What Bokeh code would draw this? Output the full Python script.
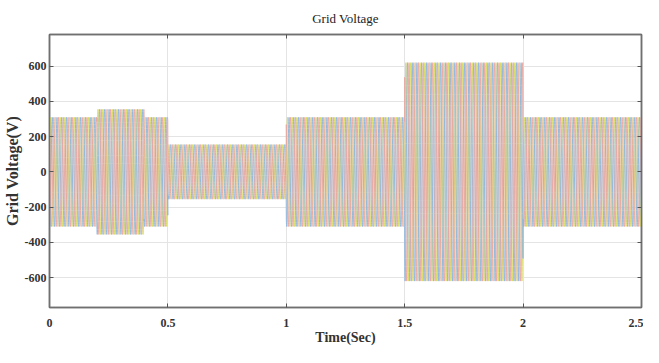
import numpy as np
from bokeh.plotting import figure
from bokeh.models import (LinearAxis, FixedTicker, Range1d,
                          CustomJSTickFormatter)
from bokeh.embed import file_html
from bokeh.resources import INLINE

# ---- data ----
seg_start = [0.0, 0.2, 0.4, 0.5, 1.0, 1.5, 2.0]      # s
seg_end = [0.2, 0.4, 0.5, 1.0, 1.5, 2.0, 2.5]        # s
seg_peak = [310, 355, 310, 155, 310, 620, 310]       # V, peak of each phase
freq_hz = 50
phase_deg = [0, -120, 120]
phase_colors = ["#d9db62", "#8fb6de", "#e8a9a2"]
x_ticks = [0, 0.5, 1, 1.5, 2, 2.5]
x_tick_labels = ["0", "0.5", "1", "1.5", "2", "2.5"]
y_ticks = [-600, -400, -200, 0, 200, 400, 600]
y_tick_labels = ["-600", "-400", "-200", "0", "200", "400", "600"]

t = np.linspace(seg_start[0], seg_end[-1], 125 * 48 + 1)
amp = np.zeros_like(t)
for s, e, a in zip(seg_start, seg_end, seg_peak):
    amp[(t >= s) & (t <= e)] = a

FONT = "Liberation Serif"

p = figure(width=643, height=347, output_backend="svg",
           toolbar_location=None,
           x_range=Range1d(0, 2.5), y_range=Range1d(-770, 780),
           min_border_left=30, min_border_right=2, min_border_bottom=40,
           min_border_top=25)

for ph, col in zip(phase_deg, phase_colors):
    v = amp * np.sin(2 * np.pi * freq_hz * t + np.deg2rad(ph))
    p.line(x=t, y=v, line_color=col, line_width=1, line_alpha=0.95)

p.title.text = "Grid Voltage"
p.title.align = "center"
p.title.text_font = FONT
p.title.text_font_style = "normal"
p.title.text_font_size = "13px"
p.title.text_color = "#222222"
p.title.standoff = 17

p.outline_line_color = "#707070"
p.outline_line_width = 1.5
p.background_fill_color = "white"
p.border_fill_color = "white"

for ax in p.xaxis:
    ax.ticker = FixedTicker(ticks=x_ticks)
    ax.major_label_overrides = {k: v for k, v in zip(x_ticks, x_tick_labels)}
    ax.axis_label = "Time(Sec)"
for ax in p.yaxis:
    ax.ticker = FixedTicker(ticks=y_ticks)
    ax.major_label_overrides = {k: v for k, v in zip(y_ticks, y_tick_labels)}
    ax.axis_label = "Grid Voltage(V)"

for ax in list(p.xaxis) + list(p.yaxis):
    ax.axis_line_color = "#707070"
    ax.axis_line_width = 1.5
    ax.major_tick_in = 4
    ax.major_tick_out = 0
    ax.major_tick_line_color = "#555555"
    ax.minor_tick_line_color = None
    ax.major_label_text_font = FONT
    ax.major_label_text_font_style = "bold"
    ax.major_label_text_font_size = "12px"
    ax.major_label_text_color = "#333333"
    ax.axis_label_text_font = FONT
    ax.axis_label_text_font_style = "bold"
    ax.axis_label_text_color = "#333333"

p.xaxis.major_label_standoff = 11
p.xaxis.axis_label_standoff = 0
p.xaxis.axis_label_text_font_size = "14px"
p.yaxis.major_label_standoff = 3
p.yaxis.axis_label_standoff = 1
p.yaxis.axis_label_text_font_size = "16px"

blank = CustomJSTickFormatter(code="return ''")
right = LinearAxis(ticker=FixedTicker(ticks=y_ticks), formatter=blank,
                   major_tick_in=4, major_tick_out=0, major_label_standoff=0,
                   axis_line_color="#707070", axis_line_width=1.5,
                   major_tick_line_color="#555555", minor_tick_line_color=None)
top = LinearAxis(ticker=FixedTicker(ticks=x_ticks), formatter=blank,
                 major_tick_in=4, major_tick_out=0, major_label_standoff=0,
                 axis_line_color="#707070", axis_line_width=1.5,
                 major_tick_line_color="#555555", minor_tick_line_color=None)
p.add_layout(right, "right")
p.add_layout(top, "above")

p.xgrid.ticker = FixedTicker(ticks=x_ticks)
p.ygrid.ticker = FixedTicker(ticks=y_ticks)
p.xgrid.grid_line_color = "#e4e4e4"
p.ygrid.grid_line_color = "#e4e4e4"

open("out.html", "w").write(file_html(p, INLINE))
